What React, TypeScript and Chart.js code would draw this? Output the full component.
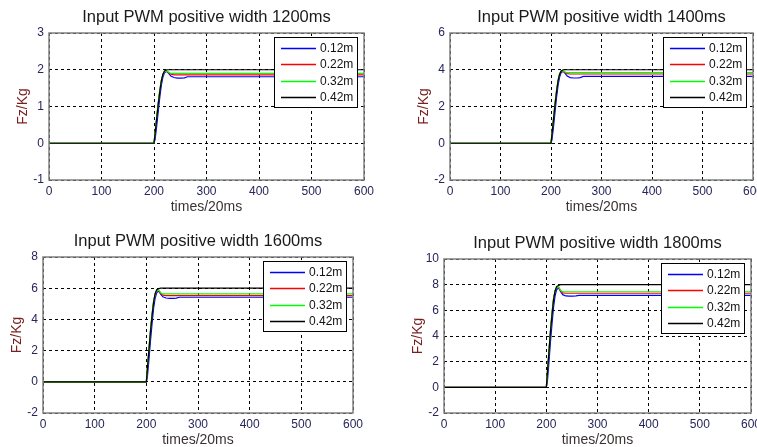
import React, { useEffect, useRef } from "react";
import { Chart, registerables } from "chart.js";

Chart.register(...registerables);

// ---------- data ----------
const TIMES = [0, 200, 202, 205, 208, 211, 214, 217, 220, 224, 228, 232, 238, 245, 252, 258, 264, 600];
const SERIES_LABELS = ["0.12m", "0.22m", "0.32m", "0.42m"];
const SERIES_COLORS = ["#0000ff", "#ff0000", "#00ff00", "#000000"];
const TITLES = [
  "Input PWM positive width 1200ms",
  "Input PWM positive width 1400ms",
  "Input PWM positive width 1600ms",
  "Input PWM positive width 1800ms",
];
const X_MIN = 0;
const X_MAX = 600;
const X_STEP = 100;
const Y_MIN = [-1, -2, -2, -2];
const Y_MAX = [3, 6, 8, 10];
const Y_STEP = [1, 2, 2, 2];
const X_TITLE = "times/20ms";
const Y_TITLE = "Fz/Kg";

const P1_012 = [0, 0, 0.1, 0.45, 0.85, 1.25, 1.58, 1.8, 1.92, 1.96, 1.9, 1.83, 1.79, 1.77, 1.77, 1.78, 1.81, 1.81];
const P1_022 = [0, 0, 0.28, 0.68, 1.08, 1.43, 1.7, 1.87, 1.95, 1.97, 1.92, 1.88, 1.86, 1.86, 1.86, 1.86, 1.86, 1.86];
const P1_032 = [0, 0, 0.3, 0.7, 1.1, 1.45, 1.72, 1.88, 1.95, 1.97, 1.93, 1.9, 1.9, 1.9, 1.9, 1.9, 1.9, 1.9];
const P1_042 = [0, 0, 0.25, 0.65, 1.05, 1.4, 1.7, 1.88, 1.97, 2.0, 2.0, 2.0, 2.0, 2.0, 2.0, 2.0, 2.0, 2.0];

const P2_012 = [0, 0, 0.2, 0.9, 1.7, 2.5, 3.15, 3.6, 3.84, 3.92, 3.8, 3.66, 3.57, 3.55, 3.55, 3.57, 3.64, 3.64];
const P2_022 = [0, 0, 0.55, 1.35, 2.15, 2.85, 3.4, 3.74, 3.9, 3.93, 3.85, 3.79, 3.77, 3.77, 3.77, 3.77, 3.77, 3.77];
const P2_032 = [0, 0, 0.6, 1.4, 2.2, 2.9, 3.45, 3.78, 3.92, 3.95, 3.88, 3.84, 3.84, 3.84, 3.84, 3.84, 3.84, 3.84];
const P2_042 = [0, 0, 0.5, 1.3, 2.1, 2.8, 3.4, 3.76, 3.94, 4.0, 4.0, 4.0, 4.0, 4.0, 4.0, 4.0, 4.0, 4.0];

const P3_012 = [0, 0, 0.3, 1.4, 2.6, 3.7, 4.7, 5.35, 5.7, 5.82, 5.6, 5.45, 5.37, 5.35, 5.35, 5.36, 5.42, 5.42];
const P3_022 = [0, 0, 0.85, 2.05, 3.25, 4.3, 5.1, 5.6, 5.82, 5.86, 5.65, 5.55, 5.53, 5.53, 5.53, 5.53, 5.53, 5.53];
const P3_032 = [0, 0, 0.9, 2.1, 3.3, 4.35, 5.15, 5.62, 5.85, 5.88, 5.7, 5.63, 5.63, 5.63, 5.63, 5.63, 5.63, 5.63];
const P3_042 = [0, 0, 0.8, 2.0, 3.2, 4.2, 5.1, 5.65, 5.9, 5.97, 6.0, 6.0, 6.0, 6.0, 6.0, 6.0, 6.0, 6.0];

const P4_012 = [0, 0, 0.4, 1.9, 3.5, 4.9, 6.2, 7.1, 7.6, 7.75, 7.45, 7.22, 7.12, 7.1, 7.1, 7.12, 7.17, 7.17];
const P4_022 = [0, 0, 1.15, 2.75, 4.35, 5.75, 6.85, 7.5, 7.78, 7.8, 7.5, 7.36, 7.33, 7.33, 7.33, 7.33, 7.33, 7.33];
const P4_032 = [0, 0, 1.2, 2.8, 4.4, 5.8, 6.9, 7.55, 7.8, 7.82, 7.55, 7.45, 7.45, 7.45, 7.45, 7.45, 7.45, 7.45];
const P4_042 = [0, 0, 1.1, 2.7, 4.3, 5.6, 6.8, 7.5, 7.85, 7.95, 8.0, 8.0, 8.0, 8.0, 8.0, 8.0, 8.0, 8.0];

const PANEL_SERIES = [
  [P1_012, P1_022, P1_032, P1_042],
  [P2_012, P2_022, P2_032, P2_042],
  [P3_012, P3_022, P3_032, P3_042],
  [P4_012, P4_022, P4_032, P4_042],
];

// ---------- layout (plot-area rectangles in page pixels) ----------
const PLOT_BOXES = [
  { L: 49, T: 33, R: 364, B: 180 },
  { L: 450, T: 33, R: 753, B: 180 },
  { L: 43, T: 257, R: 353, B: 413 },
  { L: 444, T: 259, R: 751, B: 413 },
];
const AXIS_W = 50;
const TITLE_H = 35;
const XAXIS_H = 42;
const PAD_R = 20;

const FONT = '"Liberation Sans", Arial, Helvetica, sans-serif';

const framePlugin = {
  id: "matlabFrame",
  afterDraw(chart: any) {
    const { ctx, chartArea: a } = chart;
    ctx.save();
    ctx.strokeStyle = "#808080";
    ctx.lineWidth = 1.5;
    ctx.strokeRect(a.left, a.top, a.right - a.left, a.bottom - a.top);
    // legend box
    const bw = 83;
    const bh = 70;
    const bx = Math.round(a.right - 7.5 - bw);
    const by = Math.round(a.top + 4);
    ctx.fillStyle = "#ffffff";
    ctx.fillRect(bx, by, bw, bh);
    ctx.strokeStyle = "#000000";
    ctx.lineWidth = 1;
    ctx.strokeRect(bx + 0.5, by + 0.5, bw, bh);
    ctx.font = `12px ${FONT}`;
    ctx.textBaseline = "middle";
    ctx.textAlign = "left";
    chart.data.datasets.forEach((ds: any, i: number) => {
      const y = Math.round(by + 10.7 + i * 16.4) + 0.5;
      ctx.strokeStyle = ds.borderColor;
      ctx.lineWidth = 1.5;
      ctx.beginPath();
      ctx.moveTo(bx + 7, y);
      ctx.lineTo(bx + 42, y);
      ctx.stroke();
      ctx.fillStyle = "#111111";
      ctx.fillText(ds.label, bx + 46, y);
    });
    ctx.restore();
  },
};

function Panel({ index }: { index: number }) {
  const ref = useRef<HTMLCanvasElement | null>(null);
  const box = PLOT_BOXES[index];
  const width = box.R - box.L + AXIS_W + PAD_R;
  const height = box.B - box.T + TITLE_H + XAXIS_H;

  useEffect(() => {
    if (!ref.current) return;
    const series = PANEL_SERIES[index];
    const chart = new Chart(ref.current, {
      type: "line",
      data: {
        datasets: SERIES_LABELS.map((label, si) => ({
          label,
          data: TIMES.map((t, k) => ({ x: t, y: series[si][k] })),
          borderColor: SERIES_COLORS[si],
          backgroundColor: SERIES_COLORS[si],
          borderWidth: 1.2,
          pointRadius: 0,
          tension: 0,
          fill: false,
          order: SERIES_LABELS.length - si,
        })),
      },
      options: {
        responsive: false,
        animation: false,
        devicePixelRatio: 1,
        layout: { padding: { left: 0, top: 0, right: PAD_R, bottom: 0 } },
        plugins: {
          legend: { display: false },
          tooltip: { enabled: false },
          title: {
            display: true,
            text: TITLES[index],
            fullSize: false,
            color: "#1a1a1a",
            font: { family: FONT, size: 16.5, weight: "normal", lineHeight: 1.2 },
            padding: { top: 9.6, bottom: 5.6 },
          },
        },
        scales: {
          x: {
            type: "linear",
            min: X_MIN,
            max: X_MAX,
            afterFit(scale: any) {
              scale.height = XAXIS_H;
            },
            ticks: {
              stepSize: X_STEP,
              color: "#26265a",
              font: { family: FONT, size: 12 },
              padding: 4,
              maxRotation: 0,
              autoSkip: false,
            },
            grid: { color: "#000000", lineWidth: 1, drawTicks: false },
            border: { display: false, dash: [3, 3] },
            title: {
              display: true,
              text: X_TITLE,
              color: "#3a3232",
              font: { family: FONT, size: 14, lineHeight: 1.2 },
              padding: { top: 0, bottom: 6.6 },
            },
          },
          y: {
            type: "linear",
            min: Y_MIN[index],
            max: Y_MAX[index],
            afterFit(scale: any) {
              scale.width = AXIS_W;
            },
            ticks: {
              stepSize: Y_STEP[index],
              color: "#26265a",
              font: { family: FONT, size: 12 },
              padding: 5,
              autoSkip: false,
            },
            grid: { color: "#000000", lineWidth: 1, drawTicks: false },
            border: { display: false, dash: [3, 3] },
            title: {
              display: true,
              text: Y_TITLE,
              color: "#7a1f1f",
              font: { family: FONT, size: 14, lineHeight: 1.2 },
              padding: { top: 16, bottom: 0 },
            },
          },
        },
      } as any,
      plugins: [framePlugin],
    });
    return () => chart.destroy();
  }, [index]);

  return (
    <canvas
      ref={ref}
      width={width}
      height={height}
      style={{
        position: "absolute",
        left: box.L - AXIS_W,
        top: box.T - TITLE_H,
        width,
        height,
      }}
    />
  );
}

export default function App() {
  return (
    <div
      style={{
        position: "fixed",
        left: 0,
        top: 0,
        width: 757,
        height: 447,
        overflow: "hidden",
        background: "#ffffff",
      }}
    >
      {[0, 1, 2, 3].map((i) => (
        <Panel key={i} index={i} />
      ))}
    </div>
  );
}
